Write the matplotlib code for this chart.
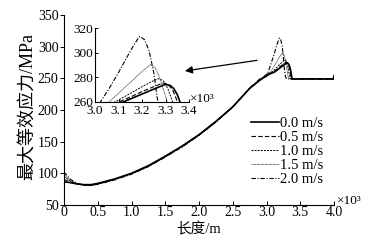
import matplotlib
matplotlib.use('Agg')
import matplotlib.pyplot as plt

plt.rcParams['font.family'] = ['Liberation Serif', 'Noto Sans CJK SC']

labels = ['0.0 m/s', '0.5 m/s', '1.0 m/s', '1.5 m/s', '2.0 m/s']

# shared rising part (x in 10^3 m)
x_rise = [0, 0.05, 0.1, 0.2, 0.3, 0.4, 0.5, 0.75, 1.0, 1.25, 1.5, 1.75, 2.0, 2.25, 2.5, 2.75, 2.9]
y_rise_00 = [86, 86, 85, 83, 82, 82, 84, 91, 100, 112, 127, 143, 161, 182, 205, 234, 247]
y_rise_05 = [90, 88, 86, 83, 81.5, 81.5, 83.5, 90.5, 99.5, 111.5, 126.5, 142.5, 160.5, 181.5, 204.5, 234, 247]
y_rise_10 = [95, 91, 87, 83, 81, 81, 83, 90, 99, 111, 126, 142, 160, 181, 204.5, 234, 247.5]
y_rise_15 = [98, 93, 88, 83.5, 81, 81, 83, 90, 99, 111, 126, 142, 160, 181, 205, 234.5, 248]
y_rise_20 = [102, 96, 90, 84, 81, 80.5, 82.5, 89.5, 98.5, 110.5, 125.5, 141.5, 160, 181, 205, 235, 249]

# peak region, per series
x_peak_00 = [3.0, 3.05, 3.12, 3.2, 3.25, 3.3, 3.32, 3.335, 3.35, 3.36, 3.37, 3.38]
y_peak_00 = [254, 257, 260, 266.5, 270.5, 274.4, 273.5, 271, 266, 261, 254, 249]
x_peak_05 = [3.0, 3.1, 3.15, 3.2, 3.25, 3.29, 3.31, 3.33, 3.345, 3.36, 3.375]
y_peak_05 = [255, 260, 264, 268.5, 272.5, 275.5, 274.5, 270, 263, 254, 249]
x_peak_10 = [3.0, 3.085, 3.15, 3.2, 3.25, 3.27, 3.29, 3.31, 3.325, 3.34, 3.355]
y_peak_10 = [256, 260, 267, 272.5, 277.5, 279, 277.5, 271, 263, 254, 249]
x_peak_15 = [3.0, 3.06, 3.1, 3.15, 3.2, 3.235, 3.255, 3.275, 3.295, 3.31, 3.325]
y_peak_15 = [257, 260, 267, 276, 285, 290.5, 288.5, 280, 268, 258, 250]
x_peak_20 = [3.0, 3.023, 3.06, 3.1, 3.14, 3.17, 3.19, 3.21, 3.23, 3.25, 3.265, 3.28, 3.3]
y_peak_20 = [253, 260, 271, 284, 298, 308, 313.5, 311, 302, 284, 263, 252, 249]

# plateau after the peak
x_plat = [3.4, 3.6, 3.8, 3.99, 4.0]
y_plat = [249, 249, 249, 249, 254]

series = [
    (y_rise_00, x_peak_00, y_peak_00, '-', 1.2),
    (y_rise_05, x_peak_05, y_peak_05, (0, (4, 2)), 0.8),
    (y_rise_10, x_peak_10, y_peak_10, (0, (2, 1.2)), 0.7),
    (y_rise_15, x_peak_15, y_peak_15, (0, (0.8, 0.8)), 0.6),
    (y_rise_20, x_peak_20, y_peak_20, (0, (4, 1.5, 1, 1.5)), 0.8),
]

fig = plt.figure(figsize=(3.72, 2.46), dpi=100)
ax = fig.add_axes([0.172, 0.167, 0.726, 0.772])
ins = fig.add_axes([0.2554, 0.5854, 0.2527, 0.2988])
ins.patch.set_alpha(0)

for (yr, xp, yp, ls, lw), lab in zip(series, labels):
    xs = x_rise + xp + x_plat
    ys = yr + yp + y_plat
    ax.plot(xs, ys, color='black', linestyle=ls, linewidth=lw, label=lab)
    ins.plot(xs, ys, color='black', linestyle=ls, linewidth=lw)

for a in (ax, ins):
    a.spines['top'].set_visible(False)
    a.spines['right'].set_visible(False)
    a.spines['left'].set_linewidth(0.8)
    a.spines['bottom'].set_linewidth(0.8)

ax.set_xlim(0, 4.0)
ax.set_ylim(50, 350)
ax.set_xticks([0, 0.5, 1.0, 1.5, 2.0, 2.5, 3.0, 3.5, 4.0])
ax.set_xticklabels(['0', '0.5', '1.0', '1.5', '2.0', '2.5', '3.0', '3.5', '4.0'])
ax.set_yticks([50, 100, 150, 200, 250, 300, 350])
ax.tick_params(axis='x', direction='in', length=3, width=0.7, labelsize=10, pad=1)
ax.tick_params(axis='y', direction='out', length=3, width=0.7, labelsize=10, pad=1)
ax.set_xlabel('长度/m', fontsize=10.5)
ax.set_ylabel('最大等效应力/MPa', fontsize=13)
ax.xaxis.set_label_coords(0.5, -0.09)
ax.yaxis.set_label_coords(-0.1, 0.52)
ax.text(1.01, 0.02, '×10³', transform=ax.transAxes, fontsize=9.5, ha='left', va='center')

ins.set_xlim(3.0, 3.4)
ins.set_ylim(260, 320)
ins.set_xticks([3.0, 3.1, 3.2, 3.3, 3.4])
ins.set_yticks([260, 280, 300, 320])
ins.tick_params(axis='x', direction='in', length=2.5, width=0.7, labelsize=9.5, pad=2)
ins.tick_params(axis='y', direction='in', length=2.5, width=0.7, labelsize=9.5, pad=1)
ins.text(1.01, 0.04, '×10³', transform=ins.transAxes, fontsize=9.5, ha='left', va='center')

ax.annotate('', xy=(1.75, 261), xytext=(2.9, 279),
            arrowprops=dict(arrowstyle='-|>', color='black', lw=0.9, mutation_scale=11))

ax.legend(loc='upper left', bbox_to_anchor=(251 / 372, 1 - 117 / 246), bbox_transform=fig.transFigure,
          frameon=False, fontsize=10.5, handlelength=1.9, handletextpad=0.1, labelspacing=0.05,
          borderpad=0, borderaxespad=0)

fig.savefig('out.png', dpi=100)
